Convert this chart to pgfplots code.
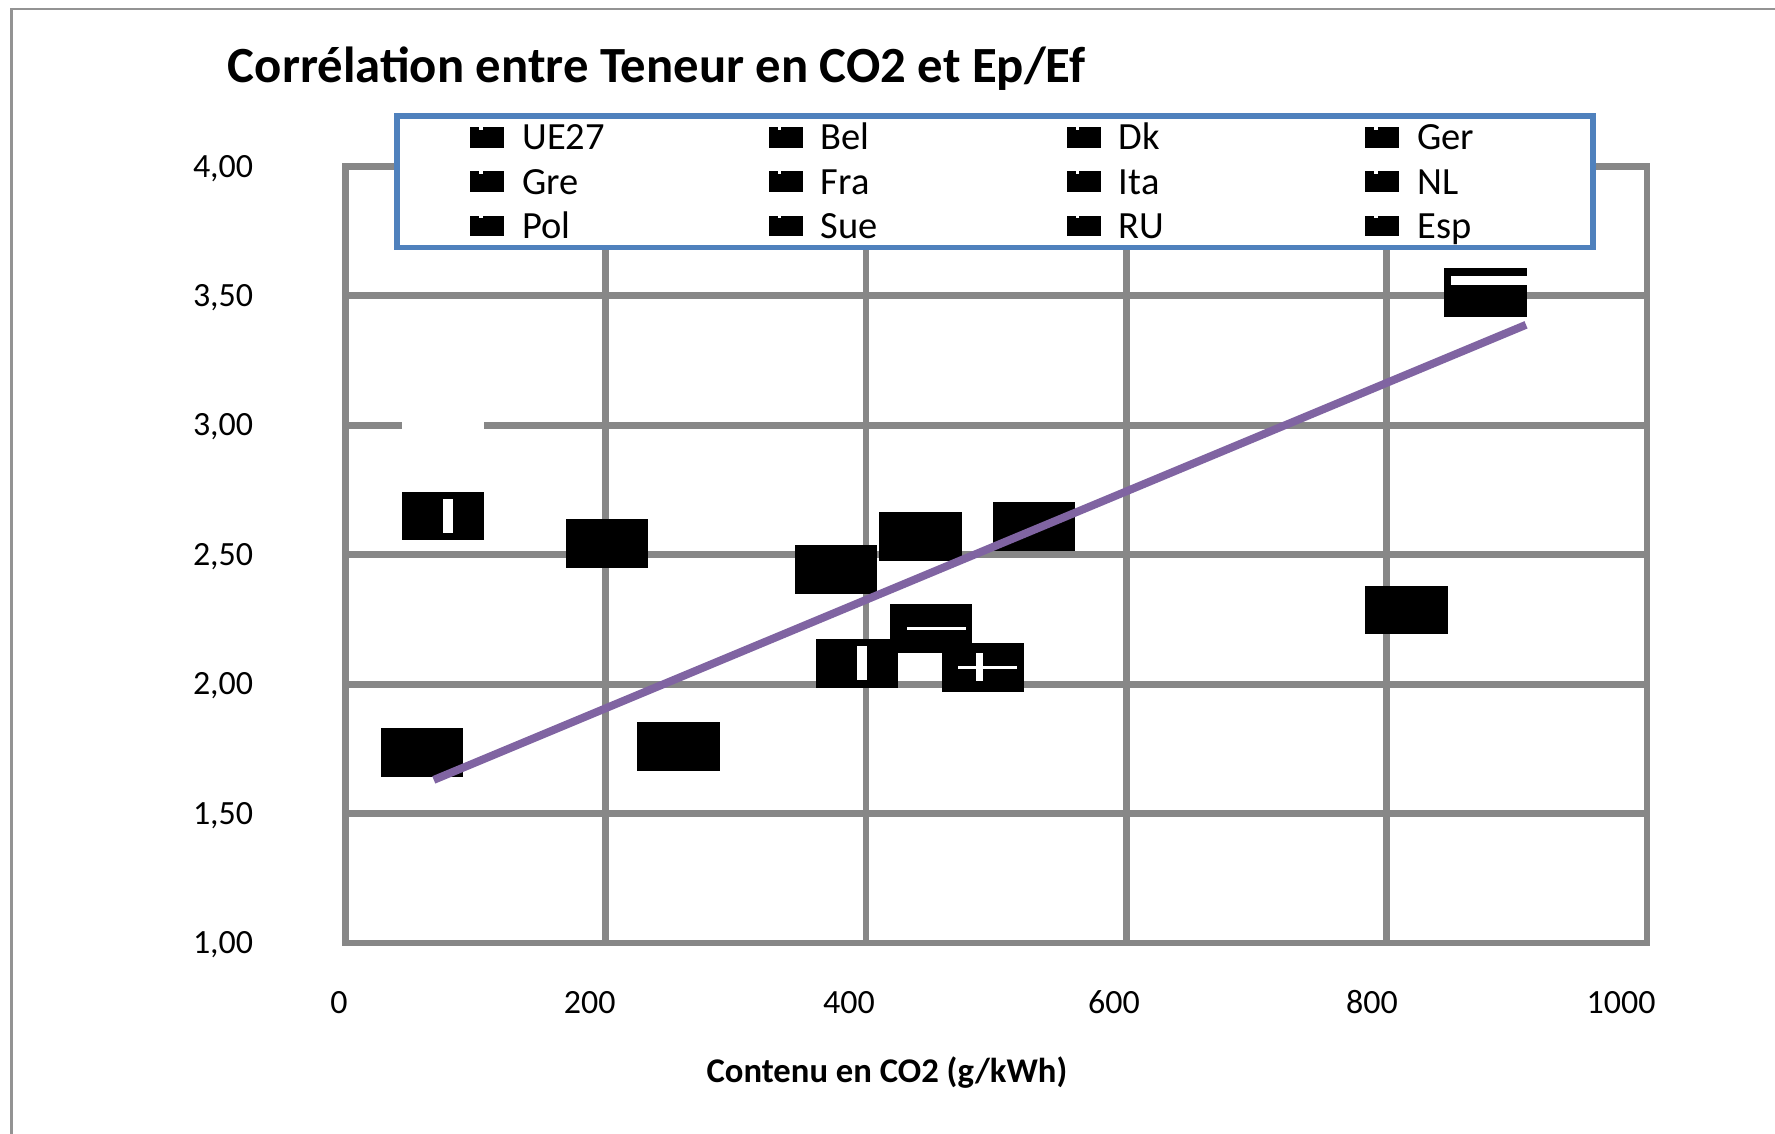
\documentclass[border=0pt]{standalone}
\usepackage{fontspec}
\setmainfont{Carlito}
\usepackage{pgfplots}
\pgfplotsset{compat=1.18}

\definecolor{gridgray}{HTML}{878787}
\definecolor{legblue}{HTML}{4F81BD}
\definecolor{trend}{HTML}{8064A2}

% big black boxes used as the markers (some with the white streaks of the original)
\newcommand\blkbase{%
  \pgfsetfillcolor{black}%
  \pgfpathrectangle{\pgfpoint{-18.25bp}{-10.75bp}}{\pgfpoint{36.5bp}{21.5bp}}%
  \pgfusepathqfill\pgfsetfillcolor{white}}
\newcommand\wrect[4]{%
  \pgfpathrectangle{\pgfpoint{#1}{#2}}{\pgfpoint{#3}{#4}}\pgfusepathqfill}
\pgfdeclareplotmark{blk}{\blkbase}
\pgfdeclareplotmark{blkI}{\blkbase\wrect{0bp}{-7.5bp}{4.4bp}{15bp}}
\pgfdeclareplotmark{blkH}{\blkbase\wrect{-10.5bp}{-0.6bp}{26bp}{1.2bp}}
\pgfdeclareplotmark{blkX}{\blkbase\wrect{-11bp}{-0.6bp}{26bp}{1.2bp}\wrect{-3bp}{-6bp}{3bp}{12.5bp}}
\pgfdeclareplotmark{blkT}{\blkbase\wrect{-15.5bp}{3.1bp}{33.75bp}{4bp}}
\pgfdeclareplotmark{wgap}{%
  \pgfsetfillcolor{white}\wrect{-18.25bp}{-1.9bp}{36.5bp}{3.8bp}}

\begin{document}
\begin{tikzpicture}
\useasboundingbox (0,0) rectangle (784bp,500.5bp);
% chart area border (cut at right and bottom)
\draw[color=gray!85, line width=1.2bp] (5bp,-5bp) -- (5bp,496.5bp) -- (790bp,496.5bp);
\node[anchor=base west, inner sep=0pt, font=\fontsize{22.4bp}{26bp}\selectfont\bfseries]
  at (100.5bp,464bp) {Corrélation entre Teneur en CO2 et Ep/Ef};
\begin{axis}[
  at={(152.5bp,84bp)}, anchor=south west,
  scale only axis, width=575bp, height=343bp,
  xmin=0, xmax=1000, ymin=1, ymax=4,
  xtick={0,200,...,1000}, ytick={1,1.5,...,4},
  grid=major,
  grid style={gridgray, line width=3bp},
  axis line style={gridgray, line width=3bp},
  major tick length=0pt,
  clip marker paths=true,
  /pgf/number format/assume math mode=true,
  tick label style={font=\fontsize{15bp}{18bp}\selectfont, inner sep=0pt},
  yticklabel style={anchor=base east, xshift=-40.5bp, yshift=-4.7bp,
    /pgf/number format/.cd, use comma, fixed, fixed zerofill, precision=2},
  xticklabel style={anchor=base, xshift=-6.5bp, yshift=-31.2bp,
    /pgf/number format/.cd, 1000 sep={}},
  xticklabel={\ifcase\ticknum\hspace*{7.5bp}\or\or\or\hspace*{2bp}\or\or\fi
    \pgfmathprintnumber{\tick}%
    \ifcase\ticknum\or\hspace*{1bp}\or\hspace*{2bp}\or\or\or\hspace*{10bp}\fi},
  xlabel={Contenu en CO2 (g/kWh)},
  xlabel style={at={(axis description cs:0.4161,-0.1793)}, anchor=base,
    inner sep=0pt, font=\fontsize{15.3bp}{18bp}\selectfont\bfseries},
  legend columns=4,
  legend cell align=left,
  legend style={at={(axis description cs:0.03739,1.06851)}, anchor=north west,
    draw=legblue, line width=2.5bp, fill=white,
    inner xsep=32.5bp, inner ysep=2bp, row sep=4.5bp,
    font=\fontsize{17bp}{20bp}\selectfont,
    nodes={inner sep=0pt, text width=45.25bp, text height=13bp, text depth=2bp, align=left},
    /tikz/every odd column/.style={column sep=8bp},
    /tikz/every even column/.style={column sep=63.5bp}},
  legend image code/.code={%
    \fill[black, draw=none] (0bp,-4.5bp) rectangle (15bp,4.5bp);
    \fill[white, draw=none] (4bp,3.4bp) rectangle (5.5bp,4.5bp);},
  pt/.style={black, only marks, mark=#1},
  pt/.default=blk,
]
% white gap in the 3,00 grid line of the original
\addplot[forget plot, only marks, mark=wgap] coordinates {(75,3.0)};
\addplot[pt] coordinates {(442,2.57)};        % UE27
\addplot[pt] coordinates {(201,2.544)};       % Bel
\addplot[pt] coordinates {(377,2.443)};       % Dk
\addplot[pt] coordinates {(529,2.61)};        % Ger
\addplot[pt] coordinates {(815,2.286)};       % Gre
\addplot[pt=blkI] coordinates {(75,2.65)};    % Fra
\addplot[pt=blkI] coordinates {(393,2.08)};   % Ita
\addplot[pt=blkH] coordinates {(450,2.216)};  % NL
\addplot[pt=blkT] coordinates {(876,3.514)};  % Pol
\addplot[pt] coordinates {(59,1.735)};        % Sue
\addplot[pt=blkX] coordinates {(490,2.063)};  % RU
\addplot[pt] coordinates {(256,1.76)};        % Esp
\legend{UE27, Bel, Dk, Ger, Gre, Fra, Ita, NL, Pol, Sue, RU, Esp}
% linear trend
\addplot[forget plot, sharp plot, no marks, trend, line width=3.5bp, line cap=butt]
  coordinates {(68,1.63) (907,3.388)};
\end{axis}
\end{tikzpicture}
\end{document}
